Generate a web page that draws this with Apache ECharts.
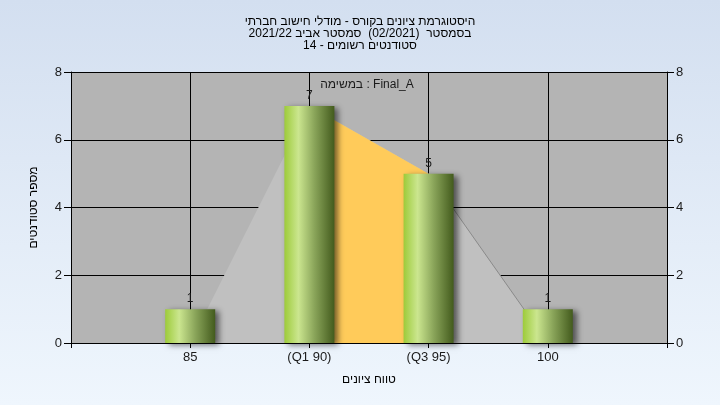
<!DOCTYPE html>
<html>
<head>
<meta charset="utf-8">
<script src="https://cdn.jsdelivr.net/npm/echarts@6/dist/echarts.min.js"></script>
<style>html,body{margin:0;padding:0;}#c{width:720px;height:405px;}</style>
</head>
<body>
<div id="c"></div>
<script>
// ---- data ----
var titleLines = ['היסטוגרמת ציונים בקורס - מודלי חישוב חברתי', 'בסמסטר  (02/2021)  סמסטר אביב 2021/22', 'סטודנטים רשומים - 14'];
var taskLabel = 'במשימה : Final_A';
var categories = ['85', '(Q1 90)', '(Q3 95)', '100'];
var counts = [1, 7, 5, 1];
var shapeValues = [0, 7, 5, 0];      // grey distribution polygon
var iqrIndex = [1, 2];               // Q1..Q3 span (orange)
var yTicks = [0, 2, 4, 6, 8];
var xName = 'טווח ציונים';
var yName = 'מספר סטודנטים';

function rtl(s) { return '\u202B' + s + '\u202C'; }

var barData = counts.map(function (v, i) { return [i + 1, v]; });
var shapeData = shapeValues.map(function (v, i) { return [i + 1, v]; });
var iqrData = iqrIndex.map(function (i) { return [i + 1, counts[i]]; });
var rightEdge = [[3, shapeValues[2]], [4, shapeValues[3]]];

var chart = echarts.init(document.getElementById('c'));
var font = 'Liberation Sans, Arial, DejaVu Sans, sans-serif';
var yAxisBase = {
  type: 'value', min: yTicks[0], max: yTicks[yTicks.length - 1], interval: 2,
  axisLine: { show: true, lineStyle: { color: '#000', width: 1 } },
  axisTick: { show: true, length: 7, lineStyle: { color: '#000' } },
  axisLabel: { color: '#1a1a1a', fontSize: 13, fontFamily: font, margin: 9 },
  splitLine: { show: false }
};
chart.setOption({
  animation: false,
  backgroundColor: { type: 'linear', x: 0, y: 0, x2: 0, y2: 1,
    colorStops: [{ offset: 0, color: '#d3dff0' }, { offset: 1, color: '#eff6fd' }] },
  title: {
    text: titleLines.map(rtl).join('\n'),
    left: 'center', top: 11,
    textStyle: { fontSize: 12, fontWeight: 'normal', color: '#000', lineHeight: 12, fontFamily: font }
  },
  graphic: [{
    type: 'text', x: 367, y: 85, z: 100,
    style: { text: taskLabel, fill: '#1a1a1a', fontSize: 12, fontFamily: font, textAlign: 'center', textVerticalAlign: 'middle' }
  }],
  grid: { left: 71, right: 53, top: 72, bottom: 62, show: true, backgroundColor: '#b4b4b4', borderWidth: 0 },
  xAxis: {
    type: 'value', min: 0, max: 5, interval: 1,
    name: rtl(xName), nameLocation: 'middle', nameGap: 31,
    nameTextStyle: { color: '#000', fontSize: 12, fontFamily: font },
    axisLine: { show: true, onZero: false, lineStyle: { color: '#000' } },
    axisTick: { show: true, length: 5, lineStyle: { color: '#000' },
      interval: function (i, v) { return v >= 1 && v <= 4; } },
    axisLabel: { color: '#1a1a1a', fontSize: 13, fontFamily: font, margin: 8,
      formatter: function (v) { return (v >= 1 && v <= 4) ? categories[v - 1] : ''; } },
    splitLine: { show: true, lineStyle: { color: '#000', width: 1 } }
  },
  yAxis: [
    Object.assign({}, yAxisBase, {
      position: 'left',
      name: rtl(yName), nameLocation: 'middle', nameGap: 31, nameRotate: 90,
      nameTextStyle: { color: '#000', fontSize: 12, fontFamily: font },
      splitLine: { show: true, lineStyle: { color: '#000', width: 1 } }
    }),
    Object.assign({}, yAxisBase, { position: 'right' })
  ],
  series: [
    { type: 'line', data: shapeData, symbol: 'none', z: 1,
      lineStyle: { width: 0 }, areaStyle: { color: '#c0c0c0', opacity: 1 } },
    { type: 'line', data: iqrData, symbol: 'none', z: 2,
      lineStyle: { width: 0 }, areaStyle: { color: '#ffcb5a', opacity: 1 } },
    { type: 'line', data: rightEdge, symbol: 'none', z: 3,
      lineStyle: { width: 1, color: '#8a8a8a' } },
    { type: 'bar', data: barData, barWidth: 50, z: 5,
      itemStyle: {
        color: { type: 'linear', x: 0, y: 0, x2: 1, y2: 0,
          colorStops: [
            { offset: 0, color: '#9dcb3a' },
            { offset: 0.28, color: '#cbe68f' },
            { offset: 0.6, color: '#8aa55a' },
            { offset: 1, color: '#435b1d' }] },
        shadowColor: 'rgba(0,0,0,0.55)', shadowBlur: 6, shadowOffsetX: 4, shadowOffsetY: 2
      },
      label: { show: true, position: 'top', distance: 4, color: '#1a1a1a', fontSize: 12, fontFamily: font }
    }
  ]
});
</script>
</body>
</html>
